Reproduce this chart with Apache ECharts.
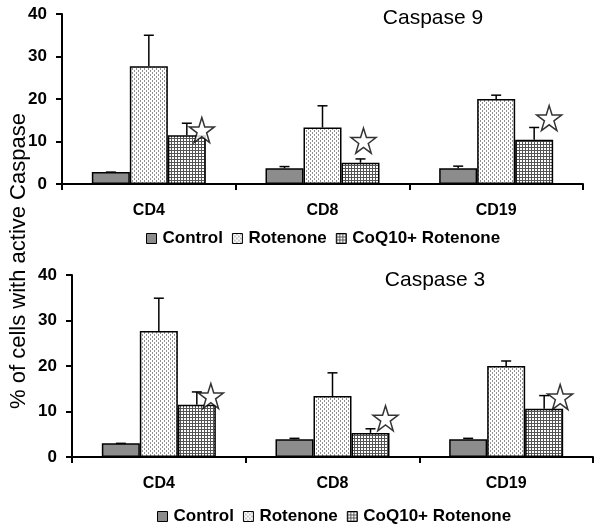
<!DOCTYPE html>
<html>
<head>
<meta charset="utf-8">
<script src="https://cdn.jsdelivr.net/npm/echarts@6/dist/echarts.min.js"></script>
<style>html,body{margin:0;padding:0;background:#fff}#c{width:600px;height:528px}</style>
</head>
<body>
<div id="c"></div>
<script>
// ---- data ----
const categories = ['CD4', 'CD8', 'CD19'];
const seriesNames = ['Control', 'Rotenone', 'CoQ10+ Rotenone'];
const yTicks = [0, 10, 20, 30, 40];

const casp9Title = 'Caspase 9';
const casp9Control = [2.8, 3.7, 3.7];
const casp9Rotenone = [27.7, 13.3, 20.0];
const casp9CoQ10 = [11.5, 5.0, 10.4];
const casp9ControlUpper = [2.8, 4.1, 4.2];
const casp9RotenoneUpper = [35.0, 18.4, 20.9];
const casp9CoQ10Upper = [14.3, 5.9, 13.3];
const casp9Star = [12.7, 10.2, 15.5];

const casp3Title = 'Caspase 3';
const casp3Control = [3.0, 3.9, 3.9];
const casp3Rotenone = [27.7, 13.4, 20.0];
const casp3CoQ10 = [11.5, 5.3, 10.6];
const casp3ControlUpper = [3.0, 4.1, 4.1];
const casp3RotenoneUpper = [34.9, 18.5, 21.1];
const casp3CoQ10Upper = [14.3, 6.2, 13.5];
const casp3Star = [13.4, 8.5, 13.2];

const yAxisName = '% of cells with active Caspase';

// ---- styles ----
const FONT = '"Liberation Sans", Arial, sans-serif';
const BAR_W = 38;
const star9Offsets = [53, 41, 53];
const star3Offsets = [52, 53, 54];

function dotPattern() {
  const c = document.createElement('canvas');
  c.width = 4; c.height = 4;
  const g = c.getContext('2d');
  g.fillStyle = '#ffffff'; g.fillRect(0, 0, 4, 4);
  g.fillStyle = '#909090';
  g.fillRect(0, 0, 1, 2);
  g.fillRect(2, 2, 1, 2);
  return c;
}
function gridPattern() {
  const c = document.createElement('canvas');
  c.width = 3; c.height = 3;
  const g = c.getContext('2d');
  g.fillStyle = '#ffffff'; g.fillRect(0, 0, 3, 3);
  g.fillStyle = '#555555';
  g.fillRect(0, 0, 3, 1);
  g.fillRect(0, 0, 1, 3);
  return c;
}
const fills = [
  '#8c8c8c',
  { image: dotPattern(), repeat: 'repeat' },
  { image: gridPattern(), repeat: 'repeat' }
];

const STAR = 'path://M50,2 L61,36 L97,36 L68,57 L79,92 L50,71 L21,92 L32,57 L3,36 L39,36 Z';

function panel(idx, vals, uppers, stars, starOffsets) {
  const series = [];
  vals.forEach((v, s) => {
    series.push({
      type: 'bar', name: seriesNames[s], xAxisIndex: idx, yAxisIndex: idx,
      data: v, barWidth: BAR_W, barGap: '0%',
      itemStyle: { color: fills[s], borderColor: '#000', borderWidth: 1.5 },
      z: 2
    });
  });
  const errData = [];
  uppers.forEach((u, s) => u.forEach((top, c) => errData.push([c, s, vals[s][c], top])));
  series.push({
    type: 'custom', xAxisIndex: idx, yAxisIndex: idx, z: 3,
    data: errData,
    renderItem: function (params, api) {
      const c = api.value(0), s = api.value(1);
      const x = api.coord([c, 0])[0] + (s - 1) * BAR_W;
      const yb = api.coord([c, api.value(2)])[1];
      const yt = api.coord([c, api.value(3)])[1];
      const st = { stroke: '#000', lineWidth: 1.5 };
      return {
        type: 'group', children: [
          { type: 'line', shape: { x1: x, y1: yb, x2: x, y2: yt }, style: st },
          { type: 'line', shape: { x1: x - 5, y1: yt, x2: x + 5, y2: yt }, style: st }
        ]
      };
    }
  });
  series.push({
    type: 'scatter', xAxisIndex: idx, yAxisIndex: idx, z: 4,
    data: stars.map((v, c) => ({ value: [c, v], symbolOffset: [starOffsets[c], 0] })),
    symbol: STAR, symbolSize: 25,
    itemStyle: { color: '#fff', borderColor: '#000', borderWidth: 1.5 }
  });
  return series;
}

const axisLine = { lineStyle: { color: '#000', width: 2 } };
function xAxis(idx) {
  return {
    type: 'category', gridIndex: idx, data: categories, boundaryGap: true,
    axisLine: axisLine,
    axisTick: { show: true, length: 6, lineStyle: { color: '#000', width: 2 } },
    axisLabel: { color: '#000', fontFamily: FONT, fontWeight: 'bold', fontSize: 16, margin: 19 }
  };
}
function yAxis(idx) {
  return {
    type: 'value', gridIndex: idx, min: yTicks[0], max: yTicks[yTicks.length - 1], interval: 10,
    axisLine: { show: true, lineStyle: { color: '#000', width: 2 } },
    axisTick: { show: true, length: 6, lineStyle: { color: '#000', width: 2 } },
    splitLine: { show: false },
    axisLabel: { color: '#000', fontFamily: FONT, fontWeight: 'bold', fontSize: 17, margin: 15 }
  };
}
function legend(left, top) {
  return {
    data: seriesNames, left: left, top: top, itemWidth: 10, itemHeight: 10, itemGap: 9,
    icon: 'rect', selectedMode: false,
    itemStyle: { borderColor: '#000', borderWidth: 1 },
    textStyle: { color: '#000', fontFamily: FONT, fontWeight: 'bold', fontSize: 17, padding: [0, 0, 0, 1] }
  };
}

const chart = echarts.init(document.getElementById('c'), null, { renderer: 'canvas' });
chart.setOption({
  animation: false,
  backgroundColor: '#fff',
  title: [
    { text: casp9Title, left: 428, top: 3, textAlign: 'center',
      textStyle: { fontFamily: FONT, fontWeight: 'normal', fontSize: 21, color: '#000' } },
    { text: casp3Title, left: 430, top: 265, textAlign: 'center',
      textStyle: { fontFamily: FONT, fontWeight: 'normal', fontSize: 21, color: '#000' } }
  ],
  legend: [legend(141, 225), legend(152, 503)],
  grid: [
    { left: 62, top: 14, width: 521, height: 170 },
    { left: 72, top: 275, width: 521, height: 182 }
  ],
  xAxis: [xAxis(0), xAxis(1)],
  yAxis: [yAxis(0), yAxis(1)],
  graphic: [{
    type: 'text', x: 19, y: 261, rotation: Math.PI / 2,
    style: { text: yAxisName, fontFamily: FONT, fontSize: 22, fill: '#000',
      align: 'center', verticalAlign: 'middle' }
  }],
  series: [].concat(
    panel(0, [casp9Control, casp9Rotenone, casp9CoQ10],
      [casp9ControlUpper, casp9RotenoneUpper, casp9CoQ10Upper], casp9Star, star9Offsets),
    panel(1, [casp3Control, casp3Rotenone, casp3CoQ10],
      [casp3ControlUpper, casp3RotenoneUpper, casp3CoQ10Upper], casp3Star, star3Offsets)
  )
});
</script>
</body>
</html>
